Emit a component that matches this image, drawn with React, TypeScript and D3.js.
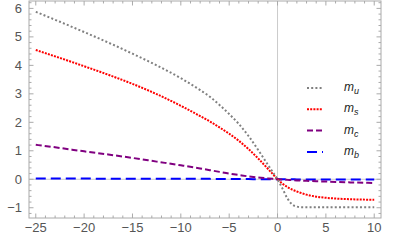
import { useEffect, useRef } from "react";
import * as d3 from "d3";

const xs = [-25, -22.5, -20, -17.5, -15, -12.5, -10, -8, -7, -6, -5, -4, -3, -2, -1, -0.5, 0, 0.5, 1, 1.5, 2, 2.5, 3, 4, 5, 7.5, 10];
const mu = [5.88, 5.53, 5.17, 4.8, 4.41, 4.0, 3.55, 3.13, 2.9, 2.61, 2.29, 1.94, 1.52, 1.03, 0.51, 0.255, 0, -0.32, -0.66, -0.88, -0.96, -0.98, -0.98, -0.98, -0.98, -0.98, -0.98];
const ms = [4.54, 4.26, 3.97, 3.67, 3.35, 2.99, 2.58, 2.22, 2.03, 1.82, 1.6, 1.35, 1.06, 0.73, 0.37, 0.185, 0, -0.15, -0.27, -0.36, -0.43, -0.49, -0.54, -0.61, -0.65, -0.7, -0.72];
const mc = [1.21, 1.1, 0.98, 0.87, 0.75, 0.62, 0.49, 0.38, 0.32, 0.26, 0.2, 0.15, 0.1, 0.06, 0.03, 0.015, 0, -0.01, -0.02, -0.03, -0.04, -0.05, -0.055, -0.07, -0.08, -0.11, -0.13];
const mb = [0.025, 0.024, 0.023, 0.022, 0.02, 0.019, 0.017, 0.015, 0.014, 0.012, 0.01, 0.008, 0.006, 0.004, 0.002, 0.001, 0, -0.001, -0.002, -0.003, -0.004, -0.004, -0.005, -0.006, -0.007, -0.009, -0.01];

const xTicks = [-25, -20, -15, -10, -5, 0, 5, 10];
const yTicks = [-1, 0, 1, 2, 3, 4, 5, 6];

const series = [
  { name: "m", sub: "u", values: mu, color: "#808080", dash: "2,2.2" },
  { name: "m", sub: "s", values: ms, color: "#ff0000", dash: "2,1.2" },
  { name: "m", sub: "c", values: mc, color: "#800080", dash: "6,3" },
  { name: "m", sub: "b", values: mb, color: "#0000ff", dash: "10,5" },
];

const App = () => {
  const svgRef = useRef<SVGSVGElement | null>(null);

  useEffect(() => {
    const svg = d3.select(svgRef.current);
    svg.selectAll("*").remove();

    const left = 29, right = 381, top = 1, bottom = 218;
    const x = d3.scaleLinear().domain([-25.7, 10.7]).range([left, right]);
    const y = d3.scaleLinear().domain([-1.36, 6.26]).range([bottom, top]);
    const frameColor = "#aaaaaa";
    const font = "'Liberation Sans', Arial, sans-serif";

    // axis lines through the origin
    svg.append("line")
      .attr("x1", x(0)).attr("x2", x(0)).attr("y1", top).attr("y2", bottom)
      .attr("stroke", "#cccccc").attr("stroke-width", 1);
    svg.append("line")
      .attr("x1", left).attr("x2", right).attr("y1", y(0)).attr("y2", y(0))
      .attr("stroke", "#cccccc").attr("stroke-width", 1);

    const line = d3.line<number>()
      .x((_, i) => x(xs[i]))
      .y((d) => y(d))
      .curve(d3.curveMonotoneX);

    series.slice().reverse().forEach((s) => {
      svg.append("path")
        .datum(s.values)
        .attr("fill", "none")
        .attr("stroke", s.color)
        .attr("stroke-width", 2)
        .attr("stroke-dasharray", s.dash)
        .attr("d", line);
    });

    // frame
    svg.append("rect")
      .attr("x", left).attr("y", top)
      .attr("width", right - left).attr("height", bottom - top)
      .attr("fill", "none").attr("stroke", frameColor).attr("stroke-width", 1);

    // ticks on all four sides, pointing inward
    const xMinor = d3.range(-25, 11, 1);
    xMinor.forEach((v) => {
      const len = v % 5 === 0 ? 4.5 : 2.5;
      svg.append("line").attr("x1", x(v)).attr("x2", x(v)).attr("y1", bottom).attr("y2", bottom - len)
        .attr("stroke", frameColor);
      svg.append("line").attr("x1", x(v)).attr("x2", x(v)).attr("y1", top).attr("y2", top + len)
        .attr("stroke", frameColor);
    });
    const yMinor = d3.range(-1.2, 6.21, 0.2).map((v) => Math.round(v * 10) / 10);
    yMinor.forEach((v) => {
      const len = Math.abs(v - Math.round(v)) < 1e-6 ? 4.5 : 2.5;
      svg.append("line").attr("x1", left).attr("x2", left + len).attr("y1", y(v)).attr("y2", y(v))
        .attr("stroke", frameColor);
      svg.append("line").attr("x1", right).attr("x2", right - len).attr("y1", y(v)).attr("y2", y(v))
        .attr("stroke", frameColor);
    });

    svg.selectAll(".xlab")
      .data(xTicks)
      .enter()
      .append("text")
      .attr("x", (d) => x(d))
      .attr("y", 232)
      .attr("text-anchor", "middle")
      .style("font-family", font)
      .style("font-size", "13px")
      .style("fill", "#555555")
      .text((d) => (d < 0 ? "\u2212" + Math.abs(d) : String(d)));

    svg.selectAll(".ylab")
      .data(yTicks)
      .enter()
      .append("text")
      .attr("x", 22)
      .attr("y", (d) => y(d) + 4.5)
      .attr("text-anchor", "end")
      .style("font-family", font)
      .style("font-size", "13px")
      .style("fill", "#555555")
      .text((d) => (d < 0 ? "\u2212" + Math.abs(d) : String(d)));

    // legend
    const legend = svg.append("g").attr("transform", "translate(307, 88)");
    series.forEach((s, i) => {
      const ly = i * 21.3;
      legend.append("line")
        .attr("x1", 0).attr("x2", 16).attr("y1", ly).attr("y2", ly)
        .attr("stroke", s.color).attr("stroke-width", 2)
        .attr("stroke-dasharray", s.dash);
      const t = legend.append("text")
        .attr("x", 37).attr("y", ly + 3)
        .style("font-family", font)
        .style("font-size", "12px")
        .style("font-style", "italic")
        .style("fill", "#222222");
      t.append("tspan").text(s.name);
      t.append("tspan").attr("dy", 3).style("font-size", "9px").text(s.sub);
    });
  }, []);

  return (
    <svg
      ref={svgRef}
      width={415}
      height={248}
      style={{ position: "absolute", left: 0, top: 0, background: "white" }}
    />
  );
};

export default App;
